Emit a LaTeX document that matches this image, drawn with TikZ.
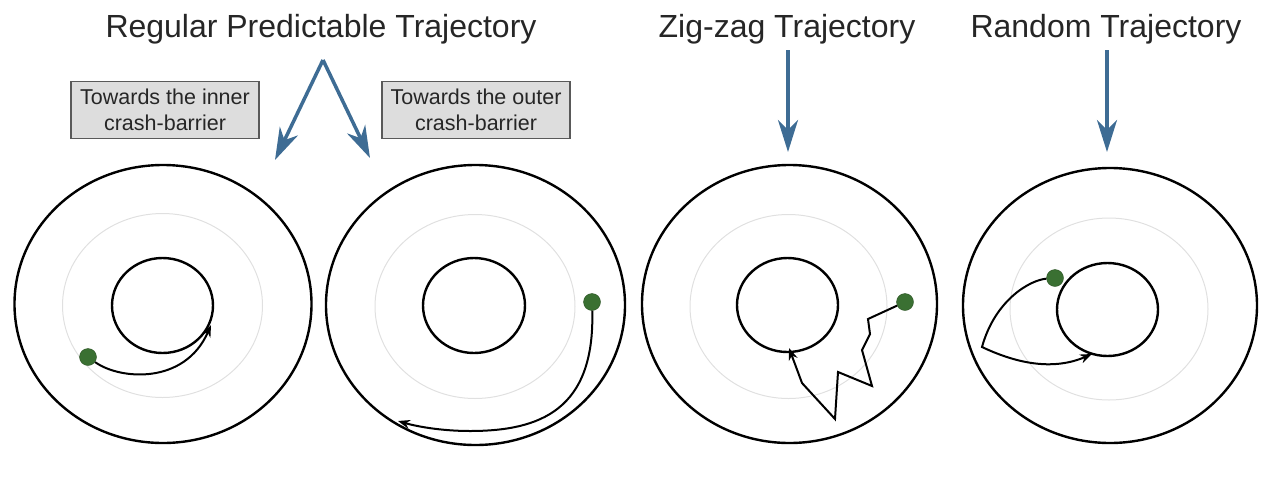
\documentclass[tikz,border=0pt]{standalone}
\usepackage{fontspec}
\setmainfont{Liberation Sans}
\usetikzlibrary{arrows.meta}

\definecolor{arrowblue}{RGB}{62,108,148}
\definecolor{cargreen}{RGB}{58,112,50}
\definecolor{boxgray}{RGB}{221,221,221}

\tikzset{
  title/.style={anchor=base,font=\fontsize{32}{38}\selectfont,text=black!85},
  notebox/.style={draw=black!65,line width=1.5pt,fill=boxgray,align=center,text=black!85,
    font=\fontsize{21.5}{26}\selectfont,minimum width=188pt,minimum height=57pt,inner sep=0pt},
  pointer/.style={draw=arrowblue,line width=3.5pt,-{Stealth[length=32pt,width=20pt,inset=10pt]}},
  barrier/.style={line width=2.4pt},
  midline/.style={draw=black!12,line width=1pt},
  car/.style={circle,fill=cargreen,draw=cargreen!75!black,minimum size=17pt,inner sep=0pt},
  trail/.style={line width=2pt,-{Stealth[length=12pt,width=9pt]}}
}

\begin{document}
\begin{tikzpicture}[x=1pt,y=-1pt]
\useasboundingbox (0,0) rectangle (1270,483);

% titles and notes
\node[title] (regular) at (321,37) {Regular Predictable Trajectory};
\node[title] (zigzag) at (787,37) {Zig-zag Trajectory};
\node[title] (random) at (1106,37) {Random Trajectory};
\node[notebox] (inner) at (165,110) {Towards the inner\\crash-barrier};
\node[notebox] (outer) at (476,110) {Towards the outer\\crash-barrier};

\coordinate (fork) at (323,60);
\coordinate (toinner) at (275,160);
\coordinate (toouter) at (370,158);
\coordinate (zzfrom) at (788,50);
\coordinate (zzto) at (788,152);
\coordinate (rdfrom) at (1107,50);
\coordinate (rdto) at (1107,152);
\draw[pointer] (fork)--(toinner);
\draw[pointer] (fork)--(toouter);
\draw[pointer] (zzfrom)--(zzto);
\draw[pointer] (rdfrom)--(rdto);

% tracks
\draw[barrier] (163,304) ellipse [x radius=148.5pt,y radius=139pt];
\draw[midline] (162.5,305.5) ellipse [x radius=100pt,y radius=92pt];
\draw[barrier] (162.5,305.5) ellipse [x radius=50.5pt,y radius=47.5pt];

\draw[barrier] (475.5,305) ellipse [x radius=149.5pt,y radius=140pt];
\draw[midline] (475,306.5) ellipse [x radius=100pt,y radius=92pt];
\draw[barrier] (474,305.5) ellipse [x radius=51pt,y radius=47.5pt];

\draw[barrier] (789.5,304) ellipse [x radius=147.5pt,y radius=139pt];
\draw[midline] (788.5,306.5) ellipse [x radius=98.5pt,y radius=92pt];
\draw[barrier] (787.5,305) ellipse [x radius=50.5pt,y radius=47pt];

\draw[barrier] (1110,305.5) ellipse [x radius=147pt,y radius=137.5pt];
\draw[midline] (1109,309) ellipse [x radius=99pt,y radius=91pt];
\draw[barrier] (1107.5,309.5) ellipse [x radius=50.5pt,y radius=46.5pt];

% vehicles and their trajectories
\node[car] (carA) at (88,357) {};
\node[car] (carB) at (592,302) {};
\node[car] (carC) at (905,302) {};
\node[car] (carD) at (1055,278) {};
\coordinate (endA) at (211,325);
\coordinate (endB) at (398,421);
\coordinate (endC) at (789,348);
\coordinate (endD) at (1092,354);

\draw[trail] (carA) .. controls (120,380) and (185,385) .. (endA);
\draw[trail] (carB) .. controls (595,410) and (540,431) .. (470,431)
  .. controls (440,431) and (415,426) .. (endB);
\draw[trail] (carC) -- (868,319) -- (870,334) -- (862,350) -- (872,386)
  -- (838,372) -- (835,419) -- (802,383) -- (endC);
\draw[trail] (carD) .. controls (1030,280) and (995,300) .. (982,347)
  .. controls (1020,365) and (1055,370) .. (endD);
\end{tikzpicture}
\end{document}
